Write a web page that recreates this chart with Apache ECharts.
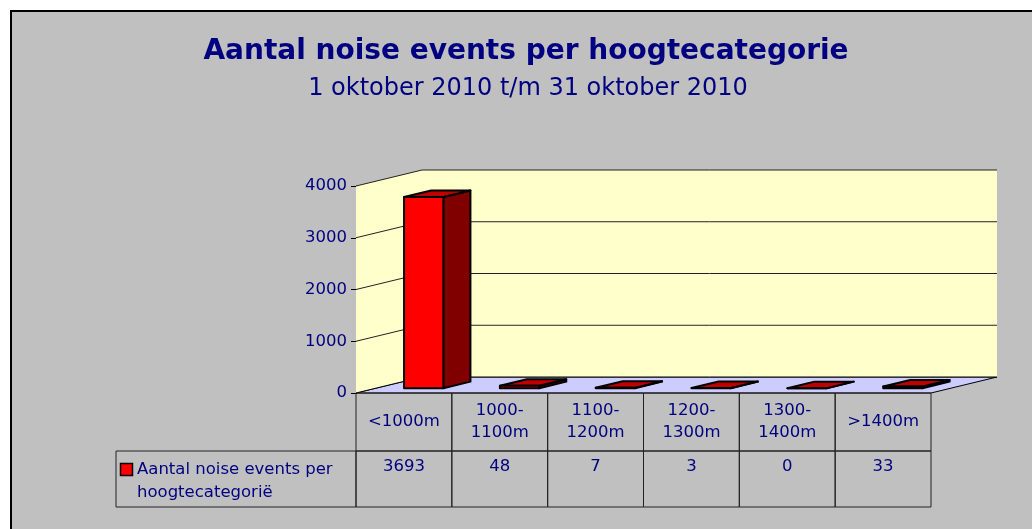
<!DOCTYPE html>
<html>
<head>
<meta charset="utf-8">
<script src="https://cdn.jsdelivr.net/npm/echarts@6/dist/echarts.min.js"></script>
<style>
html,body{margin:0;padding:0;background:#fff;}
#chart{width:1032px;height:529px;}
</style>
</head>
<body>
<div id="chart"></div>
<script>
// ---- data ----
const titleText = 'Aantal noise events per hoogtecategorie';
const subtitleText = '1 oktober 2010 t/m 31 oktober 2010';
const categories = ['<1000m', '1000-\n1100m', '1100-\n1200m', '1200-\n1300m', '1300-\n1400m', '>1400m'];
const values = [3693, 48, 7, 3, 0, 33];
const seriesName = 'Aantal noise events per\nhoogtecategorië';
const yMin = 0, yMax = 4000, yInterval = 1000;
const yTicks = [0, 1000, 2000, 3000, 4000];

// ---- style constants ----
const NAVY = '#000080';
const FONT = '"DejaVu Sans", sans-serif';
const FS = 16.5;
const DX = 66, DY = -16;           // 3D depth offset
const BAR_W = 0.41;                // fraction of band
const F0 = 0.3, F1 = 0.71;         // bar depth start / end
const HEAD_H = 58, ROW_H = 56, LEG_W = 240;

const chart = echarts.init(document.getElementById('chart'), null, {renderer: 'canvas'});

function wallsRender(params, api) {
  const cs = params.coordSys;
  const x = cs.x, y = cs.y, w = cs.width, h = cs.height;
  const children = [];
  children.push({type: 'polygon', shape: {points: [[x, y + h], [x + w, y + h], [x + w + DX, y + h + DY], [x + DX, y + h + DY]]},
    style: {fill: '#CCCCFF', stroke: '#000', lineWidth: 1}});
  children.push({type: 'polygon', shape: {points: [[x, y + h], [x, y], [x + DX, y + DY], [x + DX, y + h + DY]]},
    style: {fill: '#FFFFCC', stroke: null}});
  children.push({type: 'rect', shape: {x: x + DX, y: y + DY, width: w, height: h},
    style: {fill: '#FFFFCC', stroke: null}});
  yTicks.forEach(function (v) {
    const yv = api.coord([0, v])[1];
    children.push({type: 'polyline', shape: {points: [[x, yv], [x + DX, yv + DY], [x + DX + w, yv + DY]]},
      style: {stroke: v === 0 ? '#000' : '#222', lineWidth: 1, fill: null}});
  });
  return {type: 'group', children: children};
}

function barRender(params, api) {
  const i = api.value(0), v = api.value(1);
  const base = api.coord([i, 0]), top = api.coord([i, v]);
  const bw = api.size([1, 0])[0];
  const half = bw * BAR_W / 2;
  const ox = DX * F0, oy = DY * F0;
  const dx = DX * (F1 - F0), dy = DY * (F1 - F0);
  const xl = base[0] - half + ox, xr = base[0] + half + ox;
  const yb = base[1] + oy, yt = top[1] + oy;
  const st = {stroke: '#000', lineWidth: 2, lineJoin: 'round'};
  return {type: 'group', children: [
    {type: 'polygon', shape: {points: [[xr, yb], [xr + dx, yb + dy], [xr + dx, yt + dy], [xr, yt]]},
      style: Object.assign({fill: '#800000'}, st)},
    {type: 'polygon', shape: {points: [[xl, yt], [xr, yt], [xr + dx, yt + dy], [xl + dx, yt + dy]]},
      style: Object.assign({fill: '#C00000'}, st)},
    {type: 'polygon', shape: {points: [[xl, yb], [xr, yb], [xr, yt], [xl, yt]]},
      style: Object.assign({fill: '#FF0000'}, st)}
  ]};
}

function tableRender(params, api) {
  const i = api.value(0);
  const base = api.coord([i, 0]);
  const bw = api.size([1, 0])[0];
  const x0 = base[0] - bw / 2, y0 = base[1];
  const cellStyle = {fill: null, stroke: '#222', lineWidth: 1};
  const txt = {fill: NAVY, font: FS + 'px ' + FONT, align: 'center', verticalAlign: 'middle', lineHeight: 22};
  const children = [
    {type: 'rect', shape: {x: x0, y: y0, width: bw, height: HEAD_H}, style: cellStyle},
    {type: 'rect', shape: {x: x0, y: y0 + HEAD_H, width: bw, height: ROW_H}, style: cellStyle},
    {type: 'text', style: Object.assign({text: categories[i], x: base[0], y: y0 + HEAD_H / 2}, txt)},
    {type: 'text', style: Object.assign({text: String(values[i]), x: base[0], y: y0 + HEAD_H + 16}, txt)}
  ];
  if (i === 0) {
    children.push({type: 'rect', shape: {x: x0 - LEG_W, y: y0 + HEAD_H, width: LEG_W, height: ROW_H}, style: cellStyle});
    children.push({type: 'rect', shape: {x: x0 - LEG_W + 4.5, y: y0 + HEAD_H + 12.5, width: 12, height: 12},
      style: {fill: '#FF0000', stroke: '#000', lineWidth: 1.5}});
    children.push({type: 'text', style: {text: seriesName, x: x0 - LEG_W + 21, y: y0 + HEAD_H + 7,
      fill: NAVY, font: FS + 'px ' + FONT, align: 'left', verticalAlign: 'top', lineHeight: 23}});
  }
  return {type: 'group', children: children};
}

const option = {
  animation: false,
  backgroundColor: '#ffffff',
  graphic: [{type: 'rect', z: -10, shape: {x: 11, y: 11, width: 1030, height: 527},
    style: {fill: '#C0C0C0', stroke: '#000', lineWidth: 2}}],
  title: [
    {text: titleText, left: 521, top: 33, textAlign: 'center',
      textStyle: {color: NAVY, fontFamily: FONT, fontWeight: 'bold', fontSize: 28}},
    {text: subtitleText, left: 523, top: 72, textAlign: 'center',
      textStyle: {color: NAVY, fontFamily: FONT, fontWeight: 'normal', fontSize: 24}}
  ],
  grid: {left: 356, right: 101, top: 186, bottom: 136, containLabel: false},
  xAxis: {type: 'category', data: categories, show: false},
  yAxis: {
    type: 'value', min: yMin, max: yMax, interval: yInterval,
    axisLine: {show: true, lineStyle: {color: '#000', width: 1}},
    axisTick: {show: true, length: 5, lineStyle: {color: '#000'}},
    axisLabel: {color: NAVY, fontFamily: FONT, fontSize: FS, margin: 9,
      formatter: function (v) { return String(v); }},
    splitLine: {show: false}
  },
  series: [
    {type: 'custom', name: 'walls', renderItem: wallsRender, data: [[0, 0]], z: 1, silent: true, clip: false},
    {type: 'custom', name: seriesName, renderItem: barRender, clip: false, z: 3,
      data: values.map(function (v, i) { return [i, v]; })},
    {type: 'custom', name: 'table', renderItem: tableRender, clip: false, z: 2, silent: true,
      data: values.map(function (v, i) { return [i, 0]; })}
  ]
};
chart.setOption(option);
</script>
</body>
</html>
